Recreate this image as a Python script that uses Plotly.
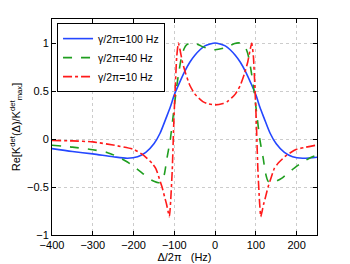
import plotly.graph_objects as go

# gamma/2pi = 100 Hz
x100 = [-400, -350, -300, -250, -215, -190, -170, -150, -135, -120, -110, -100, -88, -75, -62, -50, -37, -25, -12, 0,
        12, 25, 37, 50, 62, 75, 88, 100, 110, 120, 135, 150, 170, 190, 215, 250]
y100 = [-0.10, -0.13, -0.155, -0.185, -0.20, -0.185, -0.14, -0.05, 0.06, 0.22, 0.33, 0.46, 0.58, 0.70, 0.80, 0.87, 0.93, 0.97, 0.99, 1.0,
        0.99, 0.97, 0.93, 0.87, 0.80, 0.70, 0.58, 0.46, 0.33, 0.22, 0.06, -0.05, -0.14, -0.185, -0.20, -0.19]

# gamma/2pi = 40 Hz
x40 = [-400, -350, -300, -265, -236, -215, -195, -180, -163, -150, -138, -130, -124, -118, -110, -102, -94, -88, -82, -76, -70, -60, -48, -35, -20, 0,
       20, 35, 48, 60, 70, 76, 82, 88, 94, 102, 110, 118, 124, 130, 138, 150, 163, 180, 195, 215, 236, 250]
y40 = [-0.065, -0.085, -0.112, -0.14, -0.19, -0.24, -0.30, -0.35, -0.41, -0.44, -0.455, -0.44, -0.36, -0.20, -0.01, 0.27, 0.55, 0.72, 0.86, 0.94, 0.98, 1.0, 0.995, 0.97, 0.945, 0.93,
       0.945, 0.97, 0.995, 1.0, 0.98, 0.94, 0.86, 0.72, 0.55, 0.27, -0.01, -0.20, -0.36, -0.44, -0.455, -0.44, -0.41, -0.35, -0.30, -0.24, -0.19, -0.165]

# gamma/2pi = 10 Hz
x10 = [-400, -350, -300, -250, -200, -175, -155, -145, -137, -130, -124, -119, -115, -112, -109, -105, -101, -98, -94, -90, -86, -80, -72, -62, -50, -40, -30, -20, 0,
       20, 30, 40, 50, 62, 72, 80, 86, 90, 94, 98, 101, 105, 109, 112, 115, 119, 124, 130, 137, 145, 155, 175, 200, 250]
y10 = [-0.015, -0.02, -0.03, -0.063, -0.108, -0.17, -0.25, -0.31, -0.41, -0.50, -0.60, -0.68, -0.76, -0.81, -0.65, -0.32, 0.20, 0.51, 0.86, 1.0, 0.93, 0.80, 0.68, 0.56, 0.47, 0.425, 0.39, 0.37, 0.355,
       0.37, 0.39, 0.425, 0.47, 0.56, 0.68, 0.80, 0.93, 1.0, 0.86, 0.51, 0.20, -0.32, -0.65, -0.81, -0.76, -0.68, -0.60, -0.50, -0.41, -0.31, -0.25, -0.17, -0.108, -0.063]

xticks = [-400, -300, -200, -100, 0, 100, 200]
xticklabels = ["\u2212400", "\u2212300", "\u2212200", "\u2212100", "0", "100", "200"]
yticks = [-1, -0.5, 0, 0.5, 1]
yticklabels = ["\u22121", "\u22120.5", "0", "0.5", "1"]

font = "Liberation Sans, Arial, sans-serif"

fig = go.Figure()
fig.add_trace(go.Scatter(x=x100, y=y100, mode="lines", name="\u03b3/2\u03c0=100 Hz",
                         line=dict(color="#2447ff", width=1.6, shape="spline", smoothing=0.8)))
fig.add_trace(go.Scatter(x=x40, y=y40, mode="lines", name="\u03b3/2\u03c0=40 Hz",
                         line=dict(color="#1f9e1f", width=1.6, dash="dash", shape="spline", smoothing=0.6)))
fig.add_trace(go.Scatter(x=x10, y=y10, mode="lines", name="\u03b3/2\u03c0=10 Hz",
                         line=dict(color="#ff1a1a", width=1.6, dash="dashdot", shape="spline", smoothing=0.5)))

fig.update_layout(
    template="none",
    width=350, height=264,
    margin=dict(l=52, r=33, t=19, b=29, autoexpand=False),
    paper_bgcolor="white", plot_bgcolor="white",
    font=dict(family=font, size=11, color="black"),
    showlegend=True,
    legend=dict(x=0.019, y=0.981, xanchor="left", yanchor="top",
                bgcolor="white", bordercolor="black", borderwidth=1,
                font=dict(size=10.5), itemwidth=30, tracegroupgap=0,
                itemclick=False),
)
fig.update_xaxes(range=[-400, 250], tickmode="array", tickvals=xticks, ticktext=xticklabels,
                 automargin=False,
                 ticks="inside", ticklen=4, tickcolor="black", showline=True, linecolor="black",
                 linewidth=1, mirror="ticks", showgrid=True, gridcolor="#cccccc", griddash="dot",
                 gridwidth=1, zeroline=False,
                 title=dict(text="\u0394/2\u03c0   (Hz)", standoff=1, font=dict(size=11)))
fig.update_yaxes(range=[-1, 1.25], tickmode="array", tickvals=yticks, ticktext=yticklabels,
                 automargin=False,
                 ticks="inside", ticklen=4, tickcolor="black", showline=True, linecolor="black",
                 linewidth=1, mirror="ticks", showgrid=True, gridcolor="#cccccc", griddash="dot",
                 gridwidth=1, zeroline=False,
                 title=dict(text="Re[K<sup>det</sup>(\u0394)/K<sup>det</sup><sub>max</sub>]", standoff=4,
                            font=dict(size=11)))

fig.write_html("out.html", config={"displayModeBar": False},
               post_script="document.body.style.margin='0px';document.body.style.padding='0px';")
